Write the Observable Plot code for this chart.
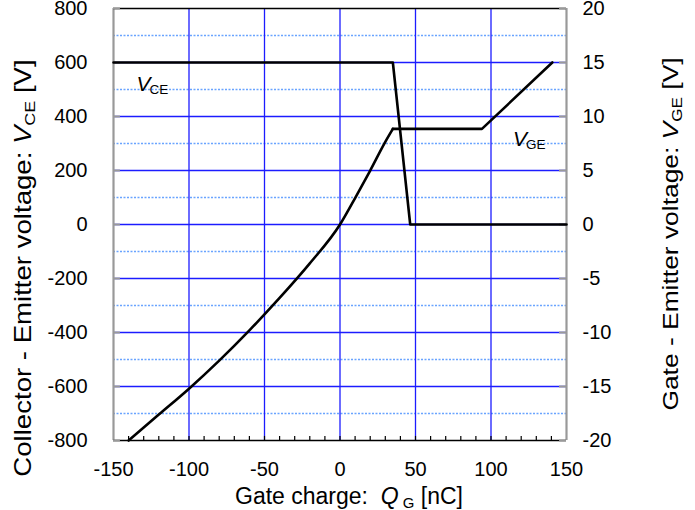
<!DOCTYPE html>
<html>
<head>
<meta charset="utf-8">
<script src="https://cdn.jsdelivr.net/npm/d3@7"></script>
<script src="https://cdn.jsdelivr.net/npm/@observablehq/plot@0.6"></script>
<style>
  html, body { margin: 0; padding: 0; background: #fff; }
  #chart { width: 695px; height: 510px; }
</style>
</head>
<body>
<div id="chart"></div>
<script>
// ---- data ----
const qVCE = [-150, 35, 46.5, 150];          // gate charge [nC]
const vVCE = [600, 600, 0, 0];               // collector-emitter voltage [V]

const qVGE = [-140, -120, -100, -80, -60, -40, -20, 0, 10, 20, 30, 35, 94, 140.6];
const vVGE = [-20, -17.6, -15.2, -12.6, -9.8, -6.8, -3.6, 0, 2.45, 5.0, 7.65, 8.85, 8.85, 15];
const plateauStart = 35; // end of the curved part of V_GE

const xTicks = [-150, -100, -50, 0, 50, 100, 150];
const xMinor = d3.range(-140, 150, 10);
const xGrid = [-100, -50, 0, 50, 100];
const yTicks = [-800, -600, -400, -200, 0, 200, 400, 600, 800];   // left axis V_CE
const yGrid = [-600, -400, -200, 0, 200, 400, 600];
const yMinorGrid = [-700, -500, -300, -100, 100, 300, 500, 700];
const vgeRatio = 40; // 800 V on the left axis = 20 V on the right axis

const seriesLabels = [
  {main: "V", sub: "CE", q: -134.7, v: 518},
  {main: "V", sub: "GE", q: 114.6, v: 7.85 * vgeRatio}
];

const vce = qVCE.map((q, i) => ({q, v: vVCE[i]}));
const vge = qVGE.map((q, i) => ({q, v: vVGE[i] * vgeRatio}));
const vgeCurve = vge.filter(d => d.q <= plateauStart);
const vgeLinear = vge.filter(d => d.q >= plateauStart);

const font = "Liberation Sans, Arial, Helvetica, sans-serif";

const plot = Plot.plot({
  width: 695,
  height: 510,
  marginLeft: 113,
  marginRight: 129,
  marginTop: 8,
  marginBottom: 70,
  style: {fontFamily: font, fontSize: "20px", color: "#000", background: "#fff"},
  x: {domain: [-150, 150], label: null},
  y: {domain: [-800, 800], label: null},
  marks: [
    // grid
    Plot.ruleY(yMinorGrid, {stroke: "#6aa4ff", strokeWidth: 1.3, strokeDasharray: "2,1.5"}),
    Plot.ruleX(xGrid, {stroke: "#1c1cff", strokeWidth: 1.3}),
    Plot.ruleY(yGrid, {stroke: "#1c1cff", strokeWidth: 1.3}),
    // frame
    Plot.ruleX([-150, 150], {stroke: "#999", strokeWidth: 2.2}),
    Plot.ruleY([800], {stroke: "#000", strokeWidth: 1.6}),
    Plot.ruleY([-800], {stroke: "#000", strokeWidth: 1.6}),
    // inner ticks
    Plot.ruleX(xMinor, {y1: -800, y2: -785, stroke: "#000", strokeWidth: 1.2}),
    Plot.ruleY(yTicks, {x1: -150, x2: -145.4, stroke: "#999", strokeWidth: 2}),
    Plot.ruleY(yTicks, {x1: 145.4, x2: 150, stroke: "#999", strokeWidth: 2}),
    // axes
    Plot.axisX({ticks: xTicks, tickSize: 0, tickPadding: 21, tickFormat: d => String(d), fontSize: 20, label: null}),
    Plot.axisY({ticks: yTicks, tickSize: 0, tickPadding: 26, tickFormat: d => String(d), fontSize: 20, label: null}),
    Plot.axisY({anchor: "right", ticks: yTicks, tickSize: 0, tickPadding: 16, textAnchor: "start", tickFormat: d => String(d / vgeRatio), fontSize: 20, label: null}),
    // curves
    Plot.line(vce, {x: "q", y: "v", stroke: "#000", strokeWidth: 2.6}),
    Plot.line(vgeCurve, {x: "q", y: "v", stroke: "#000", strokeWidth: 2.6, curve: "monotone-x"}),
    Plot.line(vgeLinear, {x: "q", y: "v", stroke: "#000", strokeWidth: 2.6}),
    // series labels
    Plot.text(seriesLabels, {x: "q", y: "v", text: "main", textAnchor: "start", fontStyle: "italic", fontSize: 21}),
    Plot.text(seriesLabels, {x: "q", y: "v", text: "sub", textAnchor: "start", fontSize: 13.5, dx: 13, dy: 5})
  ]
});

document.getElementById("chart").appendChild(plot);

// axis titles with italic symbols and subscripts
const svg = d3.select(plot);
function label(x, y, rotate, stretch, size, parts) {
  const t = svg.append("text")
    .attr("transform", `translate(${x},${y}) rotate(${rotate}) scale(${stretch},1)`)
    .attr("text-anchor", "middle")
    .attr("font-family", font)
    .attr("font-size", size)
    .attr("fill", "#000");
  for (const p of parts) {
    const s = t.append("tspan").text(p.t);
    if (p.i) s.attr("font-style", "italic");
    if (p.sub) s.attr("font-size", size * 0.65).attr("dy", size * 0.18);
    if (p.up) s.attr("dy", -size * 0.18);
  }
}
label(349, 504, 0, 1, 23, [
  {t: "Gate charge:  "}, {t: "Q", i: true}, {t: " G", sub: true}, {t: " [nC]", up: true}
]);
label(31, 268, -90, 1.2, 23, [
  {t: "Collector - Emitter voltage: "}, {t: "V", i: true}, {t: "CE", sub: true}, {t: " [V]", up: true}
]);
label(678, 234, -90, 1.2, 22, [
  {t: "Gate - Emitter voltage: "}, {t: "V", i: true}, {t: "GE", sub: true}, {t: " [V]", up: true}
]);
</script>
</body>
</html>
